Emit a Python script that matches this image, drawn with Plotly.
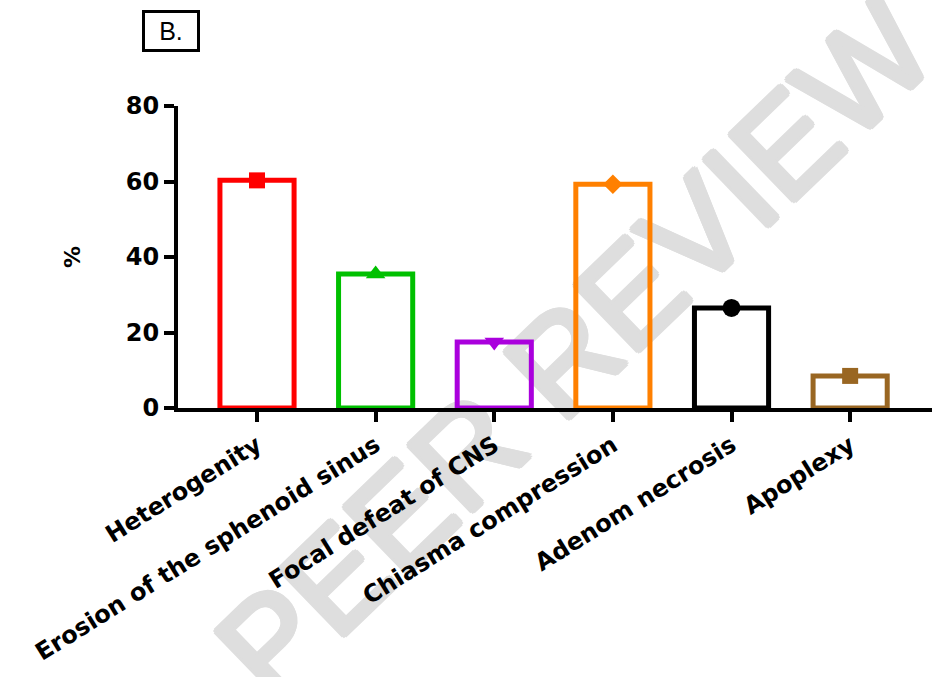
import plotly.graph_objects as go
import math

categories = ["Heterogenity", "Erosion of the sphenoid sinus", "Focal defeat of CNS",
              "Chiasma compression", "Adenom necrosis", "Apoplexy"]
values = [60.3, 35.5, 17.5, 59.3, 26.5, 8.5]
colors = ["#ff0000", "#00c000", "#aa00dd", "#ff8000", "#000000", "#996622"]
symbols = ["square", "triangle-up", "triangle-down", "diamond", "circle", "square"]
y_ticks = [0, 20, 40, 60, 80]

W, H = 932, 677
L, R, T, B = 178, 0, 106, 269
pw, ph = W - L - R, H - T - B

def px(x):
    return (x - L) / pw

def py(y):
    return (H - B - y) / ph

fig = go.Figure()
fig.add_trace(go.Bar(
    x=categories, y=values, width=0.625,
    marker=dict(color="rgba(0,0,0,0)", line=dict(color=colors, width=5)),
    showlegend=False, hoverinfo="skip",
))
fig.add_trace(go.Scatter(
    x=categories, y=values, mode="markers",
    marker=dict(symbol=symbols, color=colors, size=[16, 17, 17, 15, 18, 16],
                opacity=1, line=dict(width=0)),
    showlegend=False, cliponaxis=False,
))

bold = dict(family="DejaVu Sans", color="black", weight="bold")

# watermark geometry (pixels)
wcx, wcy, ang, half = 504, 506, 44.0, 700
wdx, wdy = half * math.cos(math.radians(ang)), half * math.sin(math.radians(ang))
wm_shadow = ("3px 0 0 #dedede, -3px 0 0 #dedede, 0 3px 0 #dedede, 0 -3px 0 #dedede, "
             "2px 2px 0 #dedede, -2px -2px 0 #dedede, 2px -2px 0 #dedede, -2px 2px 0 #dedede")

fig.update_layout(
    width=W, height=H,
    margin=dict(l=L, r=R, t=T, b=B, autoexpand=False),
    paper_bgcolor="white", plot_bgcolor="rgba(0,0,0,0)",
    xaxis=dict(
        type="category", categoryorder="array", categoryarray=categories,
        range=[-0.666, 5.69], showline=True, linewidth=4, linecolor="black",
        ticks="outside", ticklen=10, tickwidth=4, tickcolor="black",
        tickangle=-32, tickfont=dict(size=24, **bold), showgrid=False,
        automargin=False,
    ),
    yaxis=dict(
        range=[0, 80], tickvals=y_ticks, showline=True, linewidth=4, linecolor="black",
        ticks="outside", ticklen=10, tickwidth=4, tickcolor="black",
        tickfont=dict(size=24, **bold), showgrid=False, zeroline=False,
        title=dict(text="%", font=dict(size=22, **bold), standoff=40),
        automargin=False,
    ),
    shapes=[dict(
        type="line", xref="paper", yref="paper",
        x0=px(wcx - wdx), y0=py(wcy + wdy), x1=px(wcx + wdx), y1=py(wcy - wdy),
        line=dict(color="rgba(0,0,0,0)", width=0), layer="below",
        label=dict(text="FOR PEER REVIEW", textposition="middle",
                   font=dict(family="Liberation Sans", size=134, color="#dedede",
                             shadow=wm_shadow)),
    )],
    annotations=[dict(
        text="B.", xref="paper", yref="paper", x=px(171), y=py(31),
        showarrow=False, xanchor="center", yanchor="middle",
        font=dict(family="Liberation Sans", size=25, color="black"),
        bordercolor="black", borderwidth=3, width=50, height=34,
    )],
)

fig.write_html("out.html", config={"displayModeBar": False},
               post_script="document.body.style.margin='0';")
